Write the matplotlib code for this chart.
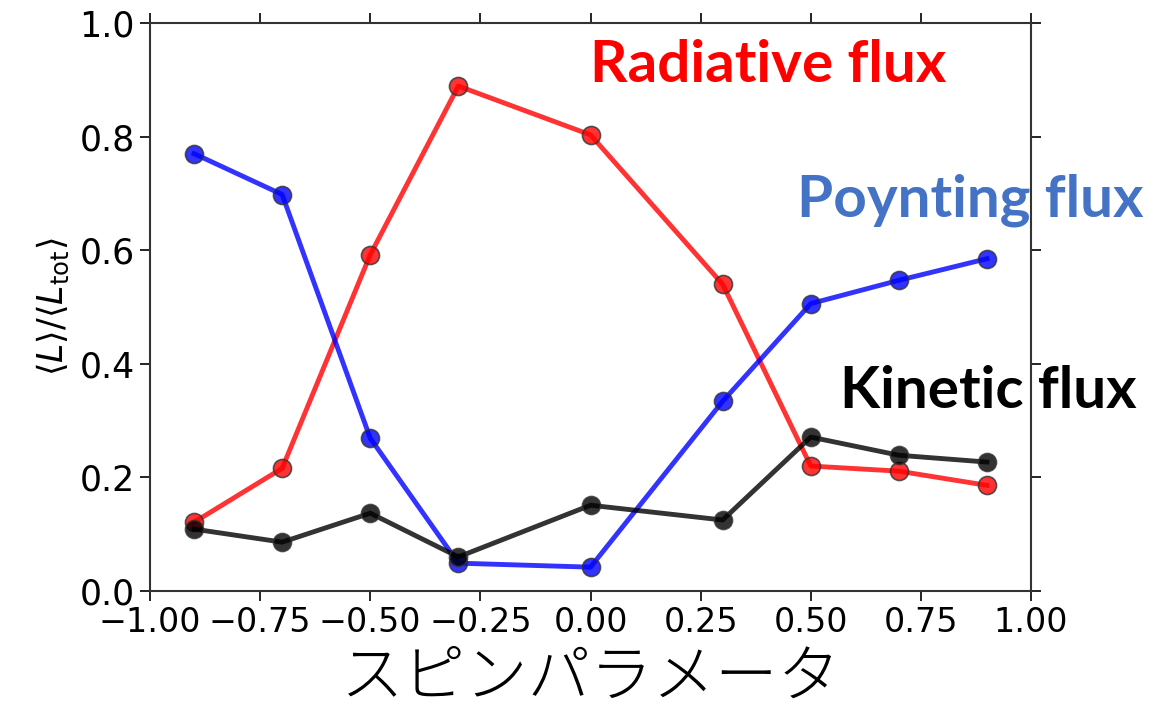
import numpy as np
from matplotlib import pyplot as plt

# spin parameter
spin = [-0.9, -0.7, -0.5, -0.3, 0.0, 0.3, 0.5, 0.7, 0.9]

# fractions of total luminosity
radiative = [0.121, 0.216, 0.592, 0.889, 0.803, 0.540, 0.220, 0.211, 0.186]
poynting = [0.770, 0.698, 0.269, 0.049, 0.042, 0.334, 0.506, 0.547, 0.585]
kinetic = [0.109, 0.086, 0.137, 0.060, 0.151, 0.125, 0.271, 0.239, 0.227]

fig = plt.figure(figsize=(11.75, 7.12), dpi=100)
ax = fig.add_axes([150/1175, 1 - 591/712, 881/1175, 568/712])

kw = dict(lw=3.5, marker='o', ms=13, mec='#333333', mew=1.2, alpha=0.8)
ax.plot(spin, radiative, color='red', **kw)
ax.plot(spin, poynting, color='blue', **kw)
ax.plot(spin, kinetic, color='black', **kw)

ax.set_xlim(-1, 1)
ax.set_ylim(0, 1)
ax.set_xticks(np.arange(-1, 1.01, 0.25))
ax.set_yticks(np.arange(0, 1.01, 0.2))
ax.tick_params(labelsize=24, length=7, width=1.2, top=True, right=True, pad=4)
ax.tick_params(axis='y', labelsize=25)
for s in ax.spines.values():
    s.set_color('#333333')
    s.set_linewidth(1.5)

ax.set_ylabel(r'$\langle L\rangle/\langle L_{\rm tot}\rangle$', fontsize=25, labelpad=6)
ax.set_xlabel('スピンパラメータ', fontsize=45, fontweight='light',
              family=['Noto Sans CJK JP', 'DejaVu Sans'], labelpad=5)

lab = dict(fontsize=42, fontweight='bold', family=['Lato', 'DejaVu Sans'], va='center',
           transform=fig.transFigure)
fig.text(590/1175, 1 - 65/712, 'Radiative flux', color='red', **lab)
fig.text(797/1175, 1 - 200/712, 'Poynting flux', color='#4472C4', **lab)
fig.text(840/1175, 1 - 392/712, 'Kinetic flux', color='black', **lab)

fig.savefig('out.png', dpi=100)
